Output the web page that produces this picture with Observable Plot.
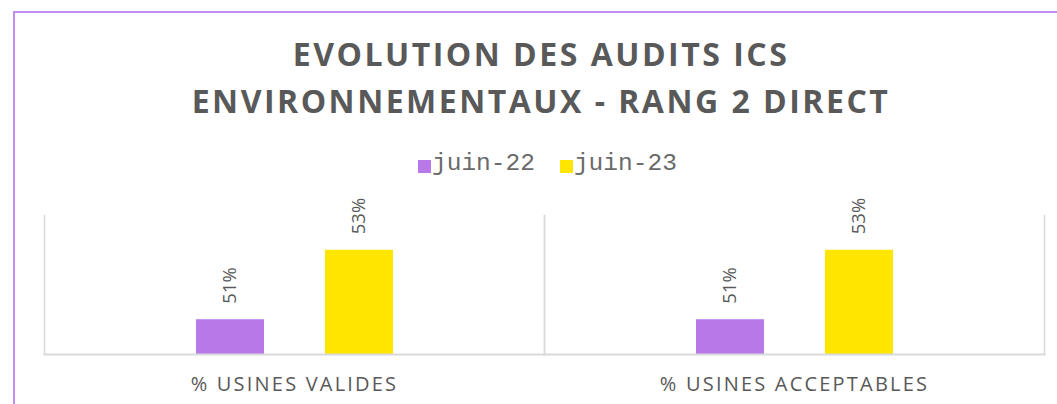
<!DOCTYPE html>
<html>
<head>
<meta charset="utf-8">
<script src="https://cdn.jsdelivr.net/npm/d3@7"></script>
<script src="https://cdn.jsdelivr.net/npm/@observablehq/plot@0.6"></script>
<style>
  html, body { margin: 0; padding: 0; background: #fff; width: 1057px; height: 404px; overflow: hidden; position: relative; }
  #frame { position: absolute; left: 13px; top: 11px; width: 1200px; height: 600px; border: 2.5px solid #c18ef0; box-sizing: border-box; }
  #title { position: absolute; left: 0; top: 30px; width: 1082px; text-align: center; font-family: "Open Sans", sans-serif; font-weight: 700; font-size: 32px; line-height: 47px; letter-spacing: 2.5px; color: #595959; }
  #legend { position: absolute; left: 418px; top: 150px; display: flex; align-items: center; font-family: "Liberation Mono", "Courier New", monospace; font-size: 24.5px; color: #6a6a6a; }
  #legend .item { display: flex; align-items: center; margin-right: 25px; }
  #legend .sw { width: 13px; height: 13px; margin-right: 1px; margin-top: 6px; }
  #chart { position: absolute; left: 0; top: 190px; }
</style>
</head>
<body>
<div id="frame"></div>
<div id="title">EVOLUTION DES AUDITS ICS<br>ENVIRONNEMENTAUX - RANG 2 DIRECT</div>
<div id="legend"></div>
<div id="chart"></div>
<script>
const categories = ["% USINES VALIDES", "% USINES ACCEPTABLES"];
const series = ["juin-22", "juin-23"];
const juin22 = [0.51, 0.51];
const juin23 = [0.53, 0.53];
const colors = ["#b878e8", "#ffe600"];

const values = [juin22, juin23];
const rows = [];
categories.forEach((c, i) => {
  series.forEach((s, j) => rows.push({category: c, series: s, value: values[j][i]}));
});

// legend
const legend = document.getElementById("legend");
series.forEach((s, j) => {
  const item = document.createElement("div");
  item.className = "item";
  const sw = document.createElement("div");
  sw.className = "sw";
  sw.style.background = colors[j];
  const t = document.createElement("span");
  t.textContent = s;
  item.appendChild(sw);
  item.appendChild(t);
  legend.appendChild(item);
});

const grid = "#d9d9d9";
const chart = Plot.plot({
  width: 1057,
  height: 214,
  marginTop: 25,
  marginBottom: 50,
  marginLeft: 44,
  marginRight: 13,
  style: {fontFamily: "'Open Sans', sans-serif", background: "transparent"},
  fx: {domain: categories, padding: 0, axis: null},
  x: {domain: series, paddingInner: 0.473, paddingOuter: 1.174, axis: null},
  y: {domain: [0.5, 0.54], axis: null},
  color: {domain: series, range: colors},
  marks: [
    Plot.barY(rows, {fx: "category", x: "series", y: "value", fill: "series", clip: true}),
    Plot.frame({anchor: "left", stroke: grid, strokeWidth: 1.5}),
    Plot.frame({anchor: "right", stroke: grid, strokeWidth: 1.5}),
    Plot.frame({anchor: "bottom", stroke: grid, strokeWidth: 2}),
    Plot.text(rows, {fx: "category", x: "series", y: "value", text: d => d3.format(".0%")(d.value),
      rotate: -90, textAnchor: "start", dy: -16, fontSize: 18.5, fill: "#595959"}),
    Plot.text(categories, {fx: d => d, text: d => d, frameAnchor: "bottom", lineAnchor: "bottom",
      dy: 36, fontSize: 20, fill: "#595959"})
  ]
});
d3.select(chart).selectAll("text")
  .filter(function() { return categories.includes(this.textContent); })
  .style("letter-spacing", "2.2px");
document.getElementById("chart").appendChild(chart);
</script>
</body>
</html>
